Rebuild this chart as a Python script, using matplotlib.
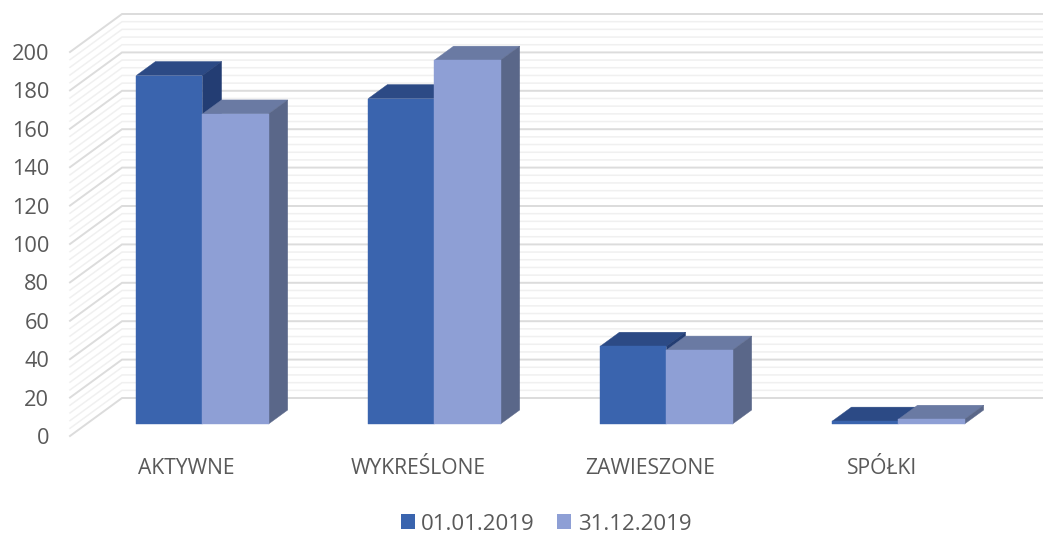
import matplotlib
matplotlib.use("Agg")
import matplotlib.pyplot as plt
from matplotlib.patches import Polygon, Patch

categories = ["AKTYWNE", "WYKREŚLONE", "ZAWIESZONE", "SPÓŁKI"]
series_names = ["01.01.2019", "31.12.2019"]
values_start = [181.5, 169.5, 40.5, 1.5]
values_end = [161.5, 189.5, 38.5, 2.5]
major_ticks = [0, 20, 40, 60, 80, 100, 120, 140, 160, 180, 200]
minor_ticks = [v for v in range(0, 201, 4) if v % 20]

W, H = 1043, 533
plt.rcParams["font.family"] = ["Open Sans", "DejaVu Sans"]
fig = plt.figure(figsize=(W / 100, H / 100), dpi=100, facecolor="white")
L, R, T, B = 70, 998, 52, 436
ax = fig.add_axes([L / W, 1 - B / H, (R - L) / W, (B - T) / H])
ax.set_xlim(-0.5, 3.5)
ax.set_ylim(0, 200)
for s in ax.spines.values():
    s.set_visible(False)

DX = 52 / ((R - L) / 4)       # full depth, category units
DY = 38 / ((B - T) / 200)     # full depth, value units
D0, D1 = 0.316, 0.684         # bar front and back depth


def proj(x, y, d):
    return (x + d * DX, y + d * DY)


def wall(v, color, lw, z):
    p0, p1, p2 = proj(-0.5, v, 0), proj(-0.5, v, 1), proj(3.6, v, 1)
    ax.plot([p0[0], p1[0], p2[0]], [p0[1], p1[1], p2[1]], color=color, lw=lw,
            clip_on=False, zorder=z, solid_joinstyle="miter")


for v in minor_ticks:
    wall(v, "#f0f0f0", 1.1, 1)
for v in major_ticks:
    wall(v, "#dcdcdc", 1.4, 2)

width = 0.285
styles = [
    ("#3A64AE", "#2C4A85", "#233D73"),
    ("#8E9FD5", "#6A7AA3", "#5A6789"),
]
z = 3
for i in range(len(categories)):
    for j, vals in enumerate([values_start, values_end]):
        x0 = i + (j - 1) * width
        x1 = x0 + width
        v = vals[i]
        front, top, side = styles[j]
        faces = [
            ([proj(x0, v, D0), proj(x1, v, D0), proj(x1, v, D1), proj(x0, v, D1)], top),
            ([proj(x1, 0, D0), proj(x1, v, D0), proj(x1, v, D1), proj(x1, 0, D1)], side),
            ([proj(x0, 0, D0), proj(x1, 0, D0), proj(x1, v, D0), proj(x0, v, D0)], front),
        ]
        for pts, c in faces:
            ax.add_patch(Polygon(pts, closed=True, facecolor=c, edgecolor=c, lw=0.3,
                                 clip_on=False, zorder=z))
        z += 1

ax.set_yticks(major_ticks)
ax.set_xticks(range(len(categories)))
ax.set_xticklabels(categories)
ax.tick_params(axis="y", length=0, pad=15, labelsize=15.7, labelcolor="#595959")
ax.tick_params(axis="x", length=0, pad=16, labelsize=15.2, labelcolor="#595959")

handles = [Patch(facecolor=styles[0][0], label=series_names[0]),
           Patch(facecolor=styles[1][0], label=series_names[1])]
fig.legend(handles=handles, loc="center", bbox_to_anchor=(546 / W, 1 - 524 / H), ncol=2,
           frameon=False, fontsize=16, labelcolor="#595959", handlelength=0.62,
           handleheight=0.62, handletextpad=0.3, columnspacing=1.0)
fig.savefig("out.png", dpi=100, facecolor="white")
